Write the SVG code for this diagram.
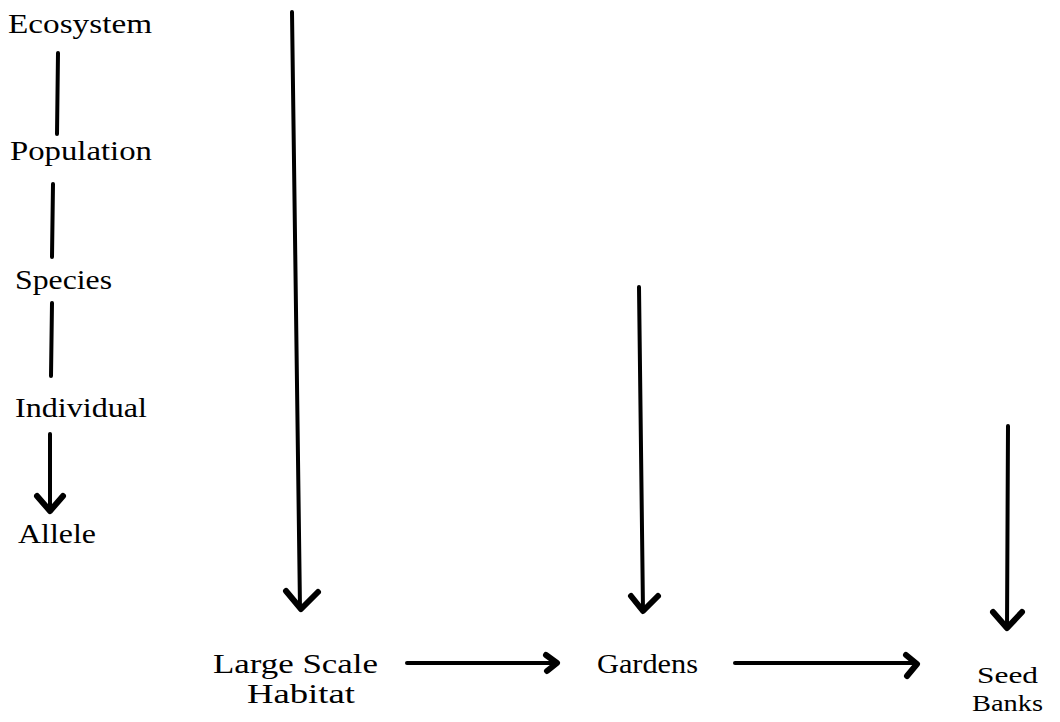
<svg xmlns="http://www.w3.org/2000/svg" width="1060" height="722" viewBox="0 0 1060 722">
<style>
.t{font-family:"Liberation Serif","Times New Roman",serif;font-size:28px;fill:#000}
.s{font-size:24px}
.l{stroke:#000;stroke-width:4;fill:none;stroke-linecap:round}
.h{stroke:#000;stroke-width:6;fill:none;stroke-linecap:round;stroke-linejoin:round}
</style>
<rect width="1060" height="722" fill="#fff"/>
<g id="ecosystem"><text class="t" x="8" y="33" textLength="144" lengthAdjust="spacingAndGlyphs">Ecosystem</text></g>
<g id="population"><text class="t" x="10" y="160" textLength="142" lengthAdjust="spacingAndGlyphs">Population</text></g>
<g id="species"><text class="t" x="15" y="289" textLength="97" lengthAdjust="spacingAndGlyphs">Species</text></g>
<g id="individual"><text class="t" x="15" y="417" textLength="132" lengthAdjust="spacingAndGlyphs">Individual</text></g>
<g id="allele"><text class="t" x="18" y="543" textLength="78" lengthAdjust="spacingAndGlyphs">Allele</text></g>
<g id="large-scale-habitat">
<text class="t" x="213" y="673" textLength="165" lengthAdjust="spacingAndGlyphs">Large Scale</text>
<text class="t" x="247" y="703" textLength="108" lengthAdjust="spacingAndGlyphs">Habitat</text>
</g>
<g id="gardens"><text class="t" x="597" y="673" textLength="101" lengthAdjust="spacingAndGlyphs">Gardens</text></g>
<g id="seed-banks">
<text class="t s" x="977" y="683" textLength="61" lengthAdjust="spacingAndGlyphs">Seed</text>
<text class="t s" x="972" y="711" textLength="71" lengthAdjust="spacingAndGlyphs">Banks</text>
</g>
<g id="connectors">
<line class="l" x1="58" y1="53" x2="57" y2="134"/>
<line class="l" x1="53" y1="184" x2="52" y2="257"/>
<line class="l" x1="52" y1="303" x2="51" y2="376"/>
<line class="l" x1="50" y1="434" x2="50" y2="511"/>
<polyline class="h" points="37,496 50,511 63,496"/>
<line class="l" x1="292" y1="12" x2="300" y2="608"/>
<polyline class="h" points="286,591 301,609 318,592"/>
<line class="l" x1="639" y1="287" x2="643" y2="610"/>
<polyline class="h" points="631,596 643,611 658,596"/>
<line class="l" x1="1008" y1="426" x2="1007" y2="628"/>
<polyline class="h" points="993,612 1007,628 1022,612"/>
<line class="l" x1="407" y1="663" x2="556" y2="663"/>
<polyline class="h" points="546,655 557,663 547,671"/>
<line class="l" x1="735" y1="663" x2="916" y2="663"/>
<polyline class="h" points="906,655 917,664 907,676"/>
</g>
</svg>
